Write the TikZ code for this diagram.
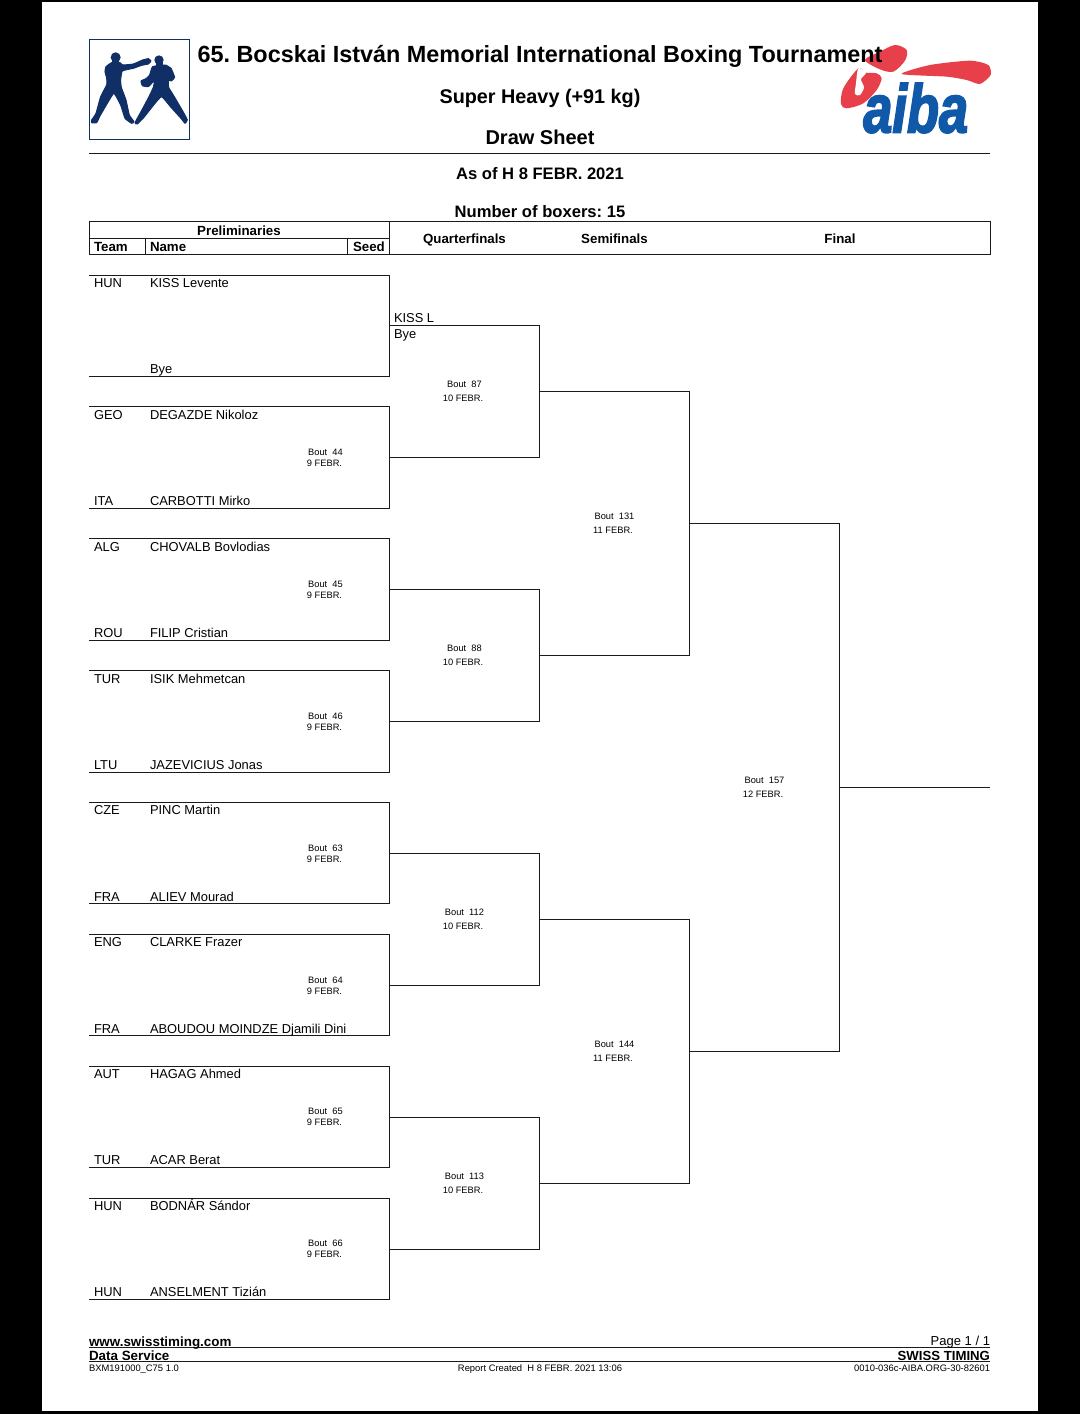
\documentclass[tikz,border=0pt]{standalone}
\usepackage{fontspec}
\setmainfont{Liberation Sans}
\frenchspacing
\definecolor{navy}{HTML}{0F2F66}
\definecolor{aibared}{HTML}{E8404A}
\definecolor{aibablue}{HTML}{1059A8}
\definecolor{rulec}{HTML}{1A1A1A}
\newcommand{\fs}[1]{\fontsize{#1}{#1}\selectfont}
\font\aibaf="Liberation Sans/BI:embolden=3" at 68pt
\tikzset{
  txt/.style={inner sep=0pt,outer sep=0pt,text=black},
  nm/.style={txt,anchor=base west,font=\fs{12.9}},
  hd/.style={txt,anchor=base,font=\bfseries\fs{13.3}},
  hdl/.style={txt,anchor=base west,font=\bfseries\fs{13.3}},
  bout/.style={txt,anchor=base,font=\fs{9.3}},
  title/.style={txt,anchor=base,font=\bfseries\fs{#1}},
  foot/.style={txt,font=\fs{9.4}},
  brk/.style={draw=rulec,line width=1pt,line join=miter},
  rl/.style={draw=rulec,line width=1pt},
}
\begin{document}
\begin{tikzpicture}[x=1pt,y=-1pt]
\useasboundingbox (0,0) rectangle (1080,1414);
\fill[black] (0,0) rectangle (1080,1414);
\fill[white] (42,2) rectangle (1038,1411);

% boxers logo
\draw[navy,line width=1pt] (89.5,39.5) rectangle (189.5,139.5);
\begin{scope}[shift={(0,0)},x=.3333pt,y=-.3333pt]
\fill[navy] (347,172) circle[radius=15];
\fill[navy] (477,180) circle[radius=14];
\fill[navy] (337,175) rectangle (358,195);
\fill[navy] (468,182) rectangle (488,202);
\filldraw[navy,line width=1pt,line join=round] plot[smooth cycle,tension=.25] coordinates {(318,200)(335,188)(360,188)(368,195)(400,192)(428,180)(445,176)(453,183)(445,192)(425,196)(400,205)(367,213)(362,240)(364,262)(378,300)(388,345)(402,365)(395,370)(375,355)(362,315)(342,280)(325,305)(300,348)(290,368)(275,368)(275,360)(288,340)(302,290)(320,255)(320,235)(315,215)};
\filldraw[navy,line width=1pt,line join=round] plot[smooth cycle,tension=.25] coordinates {(458,200)(495,195)(513,205)(524,232)(514,243)(506,240)(506,262)(523,290)(552,340)(562,360)(555,370)(543,355)(513,322)(485,290)(462,314)(432,352)(412,372)(405,368)(423,335)(447,290)(460,262)(463,242)(445,260)(427,257)(423,243)(438,236)(449,225)};
\end{scope}

% aiba logo
\begin{scope}[shift={(780,0)},x=.3333pt,y=-.3333pt]
\fill[aibared] plot[smooth cycle,tension=.5] coordinates {(255,180)(300,155)(345,135)(380,150)(375,182)(340,215)(300,208)};
\fill[aibared] plot[smooth cycle,tension=.4] coordinates {(365,222)(450,195)(570,182)(625,195)(632,225)(600,252)(560,240)(500,230)};
\fill[aibared] plot[smooth cycle,tension=.5] coordinates {(235,205)(190,265)(183,312)(200,325)(250,310)(290,270)(305,235)(290,220)(258,218)};
\fill[white] plot[smooth cycle,tension=.5] coordinates {(235,205)(228,250)(225,282)(240,285)(252,262)(243,238)(258,218)};
\node[txt,anchor=base west,text=aibablue,font=\aibaf,xscale=.77,transform shape] (aibatext) at (250,397) {aiba};
\end{scope}

% titles
\node[title=23.4] (t1) at (540,62) {65. Bocskai István Memorial International Boxing Tournament};
\node[title=19.8] (t2) at (540,103) {Super Heavy (+91 kg)};
\node[title=20] (t3) at (540,144) {Draw Sheet};
\node[title=16.6] (t4) at (540,179) {As of H 8 FEBR. 2021};
\node[title=16.6] (t5) at (540,217) {Number of boxers: 15};
\coordinate (r1a) at (89,153.5); \coordinate (r1b) at (990,153.5);
\draw[rl] (r1a) -- (r1b);

% header table
\draw[rl] (89.5,221.5) rectangle (990.5,254.5);
\coordinate (h1) at (89,238); \coordinate (h2) at (389.5,238);
\coordinate (h3) at (389.5,221.5); \coordinate (h4) at (389.5,254.5);
\coordinate (h5) at (145.5,238); \coordinate (h6) at (145.5,254.5);
\coordinate (h7) at (347,238); \coordinate (h8) at (347,254.5);
\draw[rl] (h1) -- (h2) (h3) -- (h4) (h5) -- (h6) (h7) -- (h8);
\node[hd] (hp) at (239,235) {Preliminaries};
\node[hdl] (ht) at (94,251) {Team};
\node[hdl] (hn) at (150,251) {Name};
\node[hdl] (hs) at (353,251) {Seed};
\node[hd] (hq) at (464.5,243) {Quarterfinals};
\node[hd] (hsf) at (614.5,243) {Semifinals};
\node[hd] (hf) at (840,243) {Final};

% preliminaries brackets
\foreach \i/\tp/\bt in {1/275/376,2/406.5/508,3/538.5/640,4/670.5/772,5/802.5/903.5,6/934/1035.5,7/1066/1167,8/1198/1299}{
  \coordinate (p\i a) at (89,\tp); \coordinate (p\i b) at (389.5,\tp);
  \coordinate (p\i c) at (389.5,\bt); \coordinate (p\i d) at (89,\bt);
  \draw[brk] (p\i a) -- (p\i b) -- (p\i c) -- (p\i d);
}
% quarterfinals
\foreach \i/\tp/\bt in {1/325.5/457.5,2/589.5/721.5,3/853/985,4/1117/1249}{
  \coordinate (q\i a) at (389.5,\tp); \coordinate (q\i b) at (539.5,\tp);
  \coordinate (q\i c) at (539.5,\bt); \coordinate (q\i d) at (389.5,\bt);
  \draw[brk] (q\i a) -- (q\i b) -- (q\i c) -- (q\i d);
}
% semifinals
\foreach \i/\tp/\bt in {1/391.5/655,2/919/1183}{
  \coordinate (s\i a) at (539.5,\tp); \coordinate (s\i b) at (689.5,\tp);
  \coordinate (s\i c) at (689.5,\bt); \coordinate (s\i d) at (539.5,\bt);
  \draw[brk] (s\i a) -- (s\i b) -- (s\i c) -- (s\i d);
}
% final
\coordinate (fa) at (689.5,523.5); \coordinate (fb) at (839.5,523.5);
\coordinate (fc) at (839.5,1051); \coordinate (fd) at (689.5,1051);
\coordinate (fe) at (839.5,787); \coordinate (ff) at (990,787);
\draw[brk] (fa) -- (fb) -- (fc) -- (fd);
\draw[brk] (fe) -- (ff);

% competitors
\foreach \k/\tm/\nme/\y in {
 a/HUN/KISS Levente/287,
 c/GEO/DEGAZDE Nikoloz/419,
 d/ITA/CARBOTTI Mirko/505,
 e/ALG/CHOVALB Bovlodias/551,
 f/ROU/FILIP Cristian/637,
 g/TUR/ISIK Mehmetcan/683,
 h/LTU/JAZEVICIUS Jonas/769,
 i/CZE/PINC Martin/814,
 j/FRA/ALIEV Mourad/901,
 k/ENG/CLARKE Frazer/946,
 l/FRA/ABOUDOU MOINDZE Djamili Dini/1033,
 m/AUT/HAGAG Ahmed/1078,
 n/TUR/ACAR Berat/1164,
 o/HUN/BODNÁR Sándor/1210,
 p/HUN/ANSELMENT Tizián/1296}{
  \node[nm] (tm\k) at (94,\y) {\tm};
  \node[nm] (nm\k) at (150,\y) {\nme};
}
\node[nm] (nmb) at (150,373) {Bye};
\node[nm] (ql) at (394,322) {KISS L};
\node[nm] (qb) at (394,338) {Bye};

% bouts
\foreach \k/\a/\b/\x/\ya/\yb/\xb in {
 44/Bout\ \ 44/9 FEBR./325.5/455.5/466.5/324.5,
 45/Bout\ \ 45/9 FEBR./325.5/587.5/598.5/324.5,
 46/Bout\ \ 46/9 FEBR./325.5/719.5/730.5/324.5,
 63/Bout\ \ 63/9 FEBR./325.5/851.5/862.5/324.5,
 64/Bout\ \ 64/9 FEBR./325.5/983.5/994.5/324.5,
 65/Bout\ \ 65/9 FEBR./325.5/1114.5/1125.5/324.5,
 66/Bout\ \ 66/9 FEBR./325.5/1246.5/1257.5/324.5,
 87/Bout\ \ 87/10 FEBR./464.5/387.5/401.5/463,
 88/Bout\ \ 88/10 FEBR./464.5/651.5/665.5/463,
 112/Bout\ \ 112/10 FEBR./464.5/915.5/929.5/463,
 113/Bout\ \ 113/10 FEBR./464.5/1179.5/1193.5/463,
 131/Bout\ \ 131/11 FEBR./614.5/519.5/533.5/613,
 144/Bout\ \ 144/11 FEBR./614.5/1047.5/1061.5/613,
 157/Bout\ \ 157/12 FEBR./764.5/783.5/797.5/763}{
  \node[bout] (ba\k) at (\x,\ya) {\a};
  \node[bout] (bb\k) at (\xb,\yb) {\b};
}

% footer
\coordinate (r2a) at (89,1347.5); \coordinate (r2b) at (990,1347.5);
\coordinate (r3a) at (89,1361.5); \coordinate (r3b) at (990,1361.5);
\draw[rl] (r2a) -- (r2b);
\draw[rl] (r3a) -- (r3b);
\node[txt,anchor=base west,font=\bfseries\fs{13.4}] (fw) at (89,1346) {www.swisstiming.com};
\node[txt,anchor=base west,font=\bfseries\fs{13.4}] (fd2) at (89,1360) {Data Service};
\node[txt,anchor=base east,font=\fs{13}] (fp) at (990,1345) {Page 1 / 1};
\node[txt,anchor=base east,font=\bfseries\fs{13.2}] (fs2) at (990,1360) {SWISS TIMING};
\node[foot,anchor=base west] (fb1) at (89,1371) {BXM191000\_C75 1.0};
\node[foot,anchor=base] (fb2) at (540,1371) {Report Created\ \ H 8 FEBR. 2021 13:06};
\node[foot,anchor=base east] (fb3) at (990,1371) {0010-036c-AIBA.ORG-30-82601};
\end{tikzpicture}
\end{document}
